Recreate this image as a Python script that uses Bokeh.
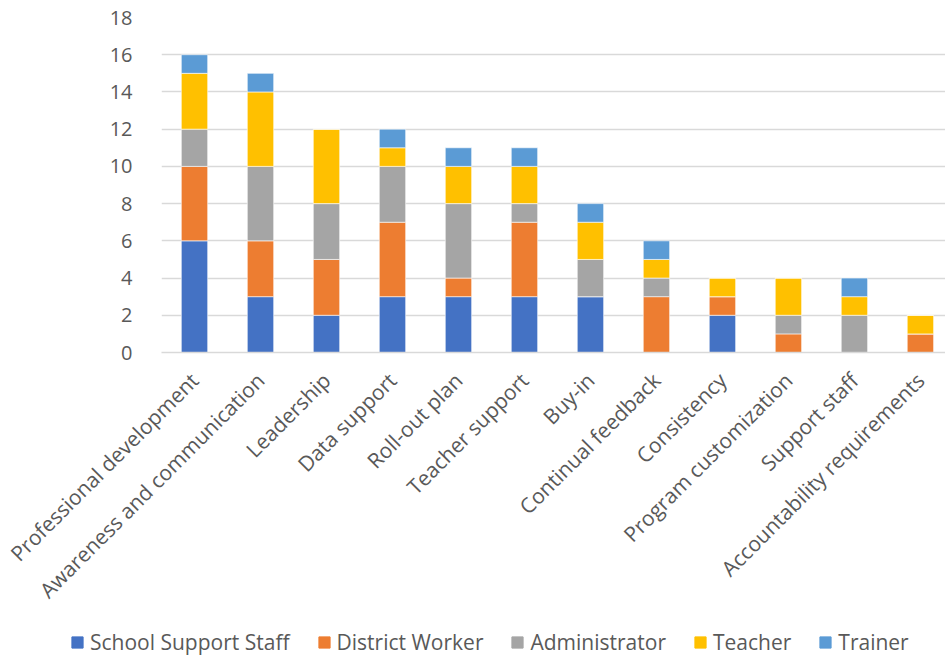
import math
from bokeh.plotting import figure
from bokeh.layouts import column
from bokeh.models import Range1d, FixedTicker, Legend, LegendItem, ColumnDataSource
from bokeh.embed import file_html
from bokeh.resources import INLINE

categories = ["Professional development", "Awareness and communication", "Leadership",
              "Data support", "Roll-out plan", "Teacher support", "Buy-in",
              "Continual feedback", "Consistency", "Program customization",
              "Support staff", "Accountability requirements"]
series_names = ["School Support Staff", "District Worker", "Administrator", "Teacher", "Trainer"]
school_support_staff = [6, 3, 2, 3, 3, 3, 3, 0, 2, 0, 0, 0]
district_worker      = [4, 3, 3, 4, 1, 4, 0, 3, 1, 1, 0, 1]
administrator        = [2, 4, 3, 3, 4, 1, 2, 1, 0, 1, 2, 0]
teacher              = [3, 4, 4, 1, 2, 2, 2, 1, 1, 2, 1, 1]
trainer              = [1, 1, 0, 1, 1, 1, 1, 1, 0, 0, 1, 0]
colors = ["#4472C4", "#ED7D31", "#A5A5A5", "#FFC000", "#5B9BD5"]
y_ticks = [0, 2, 4, 6, 8, 10, 12, 14, 16, 18]

FONT = "Open Sans"
TXT = "#595959"

xs = list(range(len(categories)))
data = {"x": xs, "cat": categories}
for name, vals in zip(series_names, [school_support_staff, district_worker, administrator, teacher, trainer]):
    data[name] = vals
source = ColumnDataSource(data)

p = figure(width=945, height=620, output_backend="svg", toolbar_location=None,
           x_range=Range1d(-0.5, 11.38), y_range=Range1d(0, 18),
           min_border_left=161, min_border_right=0, min_border_top=17, min_border_bottom=268)
p.frame_align = False
p.outline_line_color = None
p.background_fill_color = "white"
p.border_fill_color = "white"

renderers = p.vbar_stack(series_names, x="x", width=0.4, source=source, color=colors,
                         line_color="white", line_width=0.6)

# axes
p.yaxis.ticker = FixedTicker(ticks=y_ticks)
p.yaxis.axis_line_color = None
p.yaxis.major_tick_line_color = None
p.yaxis.minor_tick_line_color = None
p.yaxis.major_label_standoff = 23
p.yaxis.major_label_text_font = FONT
p.yaxis.major_label_text_font_size = "20px"
p.yaxis.major_label_text_color = TXT

p.xaxis.ticker = FixedTicker(ticks=xs)
p.xaxis.major_label_overrides = {i: c for i, c in zip(xs, categories)}
p.xaxis.major_label_orientation = math.pi / 4
p.xaxis.axis_line_color = "#D9D9D9"
p.xaxis.axis_line_width = 1.5
p.xaxis.major_tick_line_color = None
p.xaxis.minor_tick_line_color = None
p.xaxis.major_label_standoff = 18
p.xaxis.major_label_text_font = FONT
p.xaxis.major_label_text_font_size = "21px"
p.xaxis.major_label_text_color = TXT

p.xgrid.grid_line_color = None
p.ygrid.grid_line_color = "#D9D9D9"
p.ygrid.grid_line_width = 1.5
p.ygrid.ticker = FixedTicker(ticks=y_ticks)

# legend strip (same series, drawn outside its visible range so only the legend shows)
lg = figure(width=945, height=36, output_backend="svg", toolbar_location=None,
            x_range=Range1d(-0.5, 11.38), y_range=Range1d(100, 101),
            x_axis_location=None, y_axis_location=None,
            min_border_left=0, min_border_right=0, min_border_top=0, min_border_bottom=0)
lg.frame_align = False
lg.outline_line_color = None
lg.xgrid.visible = False
lg.ygrid.visible = False
lg_renderers = lg.vbar_stack(series_names, x="x", width=0.4, source=source, color=colors)

legend = Legend(items=[LegendItem(label=n, renderers=[r]) for n, r in zip(series_names, lg_renderers)],
                orientation="horizontal", location=(70, 0),
                glyph_width=14, glyph_height=14, label_standoff=6, spacing=27,
                padding=0, margin=0, border_line_color=None, background_fill_alpha=0,
                label_text_font=FONT, label_text_font_size="21px", label_text_color=TXT,
                label_height=14)
lg.add_layout(legend, "center")

layout = column(p, lg, spacing=0)
open("out.html", "w").write(file_html(layout, INLINE))
